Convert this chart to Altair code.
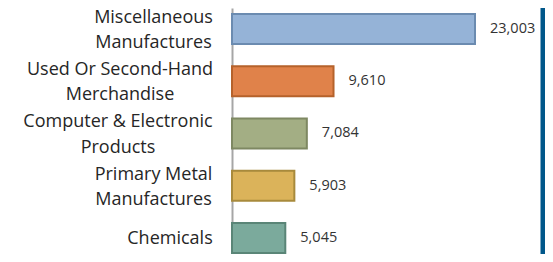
import altair as alt
import pandas as pd

categories = [
    "Miscellaneous\nManufactures",
    "Used Or Second-Hand\nMerchandise",
    "Computer & Electronic\nProducts",
    "Primary Metal\nManufactures",
    "Chemicals",
]
values = [23003, 9610, 7084, 5903, 5045]
fill_colors = ["#95B3D7", "#E0824A", "#A3AE84", "#DBB35A", "#7BAA9C"]
stroke_colors = ["#6B8BB0", "#B5622B", "#7E8862", "#A88A3C", "#5A8577"]

# horizontal centre of each (centre-aligned) label block, as distance from the axis
label_pad = [79, 112.5, 114.5, 79, 62.5]

df = pd.DataFrame({"category": categories, "value": values,
                   "fill": fill_colors, "stroke": stroke_colors})

x_max = 29440
xscale = alt.Scale(domain=[0, x_max], nice=False, zero=True)
yscale = alt.Scale(paddingInner=0.426, paddingOuter=0.067, align=0.857)

pad_conditions = [
    {"test": "indexof(datum.value, '%s') == 0" % c.split("\n")[0], "value": p}
    for c, p in zip(categories[:-1], label_pad[:-1])
]

y_enc = alt.Y("category:N", sort=categories, scale=yscale,
              axis=alt.Axis(title=None, ticks=False, domainColor="#A6A6A6",
                            domainWidth=2, labelFontSize=18, labelFont="Open Sans",
                            labelColor="#262626", labelAlign="center",
                            labelPadding={"condition": pad_conditions,
                                          "value": label_pad[-1]},
                            labelLineHeight=25.5, labelLimit=0,
                            labelOffset={"condition": {"test": "indexof(datum.value, '\\n') >= 0",
                                                       "value": -11.25},
                                         "value": 1},
                            labelExpr="split(datum.label, '\\n')"))

base = alt.Chart(df)

bars = base.mark_bar(strokeWidth=2).encode(
    x=alt.X("value:Q", scale=xscale, axis=None),
    y=y_enc,
    fill=alt.Fill("fill:N", scale=None),
    stroke=alt.Stroke("stroke:N", scale=None),
)

labels = base.mark_text(align="left", baseline="middle", dx=15, fontSize=14.5,
                        font="Open Sans", color="#333333").encode(
    x=alt.X("value:Q", scale=xscale, axis=None),
    y=alt.Y("category:N", sort=categories, scale=yscale),
    text=alt.Text("value:Q", format=","),
)

frame = alt.Chart(pd.DataFrame({"edge": [x_max]})).mark_rule(
    color="#00578A", strokeWidth=5).encode(
    x=alt.X("edge:Q", scale=xscale, axis=None),
)

chart = alt.layer(bars, labels, frame).properties(
    width=311, height=246,
    padding={"left": 224, "top": 0, "right": 2, "bottom": 0},
    autosize=alt.AutoSizeParams(type="none"),
).configure_view(stroke=None).configure_axis(grid=False)

chart.save("out.html", embed_options={"renderer": "svg", "actions": False})
